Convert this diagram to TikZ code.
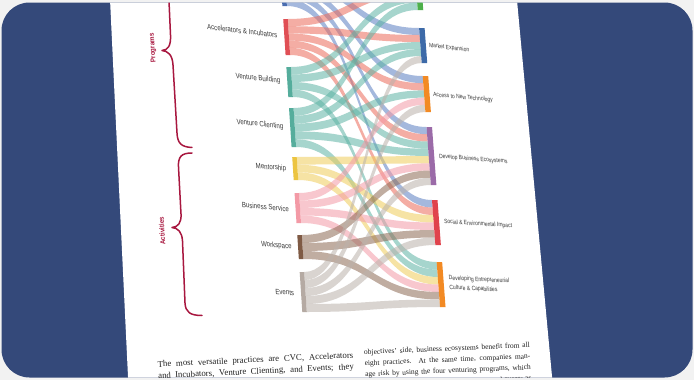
\documentclass[tikz,border=0pt]{standalone}
\usepackage{fontspec}
\setmainfont{Liberation Serif}
\newfontfamily\labfont[FakeStretch=0.8]{Liberation Sans}
\newfontfamily\headfont[FakeStretch=0.9]{Liberation Sans}
\definecolor{framecol}{HTML}{F2F2F2}
\definecolor{navy}{HTML}{34497A}
\definecolor{labcol}{HTML}{3A3A3A}
\definecolor{crim}{HTML}{A8173F}
\definecolor{txtcol}{HTML}{222222}
% flow colours
\definecolor{cvcF}{HTML}{5B7EC2}
\definecolor{aiF}{HTML}{EB6A5A}
\definecolor{tealF}{HTML}{5DB3A4}
\definecolor{yelF}{HTML}{F0CC5A}
\definecolor{pinkF}{HTML}{F49AA6}
\definecolor{brF}{HTML}{8E6A55}
\definecolor{grF}{HTML}{BBB2AB}
% bar colours
\definecolor{cvcB}{HTML}{4A6DB0}
\definecolor{aiB}{HTML}{E04F55}
\definecolor{tealB}{HTML}{55AD9C}
\definecolor{yelB}{HTML}{ECC440}
\definecolor{pinkB}{HTML}{F39AA6}
\definecolor{brB}{HTML}{7F5A44}
\definecolor{grB}{HTML}{B5AAA3}
\definecolor{greenB}{HTML}{4DB04A}
\definecolor{meB}{HTML}{3D6AA8}
\definecolor{orB}{HTML}{F28A24}
\definecolor{puB}{HTML}{9B6BA8}
\definecolor{seB}{HTML}{E0434C}
\tikzset{
  flowband/.style={fill=#1, fill opacity=0.55},
  lab/.style={inner sep=0pt, text=labcol, xslant=-0.065, font=\labfont\fontsize{7.6}{8}\selectfont},
  rlab/.style={inner sep=0pt, text=labcol, align=left, xslant=-0.07, font=\labfont\fontsize{6.2}{9.5}\selectfont},
  head/.style={inner sep=0pt, text=crim, font=\headfont\bfseries\fontsize{7}{8}\selectfont},
  bracepath/.style={draw=crim, line width=1.5pt, line cap=round, line join=round},
  para/.style={inner sep=0pt, text=txtcol, xslant=-0.048},
}
% flow band: colour, source top, source bottom, target top, target bottom
\newcommand\flw[5]{%
  \fill[flowband=#1] ({286.5+0.065*(#2)},#2)
    .. controls ({351.75+0.0325*(#2)+0.0375*(#4)},#2) and ({351.75+0.0325*(#2)+0.0375*(#4)},#4)
    .. ({417+0.075*(#4)},#4)
    -- ({417+0.075*(#5)},#5)
    .. controls ({351.75+0.0325*(#3)+0.0375*(#5)},#5) and ({351.75+0.0325*(#3)+0.0375*(#5)},#3)
    .. ({286.5+0.065*(#3)},#3) -- cycle;}
\newcommand\lbar[3]{\fill[#1] ({282+0.065*(#2)},#2) -- ({286.5+0.065*(#2)},#2) -- ({286.5+0.065*(#3)},#3) -- ({282+0.065*(#3)},#3) -- cycle;}
\newcommand\rbar[3]{\fill[#1] ({417+0.075*(#2)},#2) -- ({422.5+0.075*(#2)},#2) -- ({422.5+0.075*(#3)},#3) -- ({417+0.075*(#3)},#3) -- cycle;}
\begin{document}
\begin{tikzpicture}[x=1pt,y=-1pt]
\useasboundingbox (0,0) rectangle (694,380);
\fill[framecol] (0,0) rectangle (694,380);
\begin{scope}
\clip[rounded corners=28] (1.5,2.5) rectangle (692.5,377.5);
\fill[navy] (0,0) rectangle (694,380);
% page
\fill[white] (109.8,-5) -- (516.5,-5) -- (552.8,385) -- (128.4,385) -- cycle;
% ---- flows ----
% CVC
\flw{cvcF}{-22.8}{-15.6}{28}{35}
\flw{cvcF}{-15.6}{-8.4}{76}{83.2}
\flw{cvcF}{-8.4}{-1.2}{127}{134.25}
\flw{cvcF}{-1.2}{6}{200}{207.5}
% Accelerators & Incubators
\flw{aiF}{19}{26.2}{-12.5}{-5}
\flw{aiF}{26.2}{33.4}{35}{42}
\flw{aiF}{33.4}{40.6}{83.2}{90.4}
\flw{aiF}{40.6}{47.8}{134.25}{141.5}
\flw{aiF}{47.8}{55}{207.5}{215}
% Venture Building
\flw{tealF}{67}{74.5}{-5}{2.5}
\flw{tealF}{74.5}{82}{42}{49}
\flw{tealF}{82}{89.5}{141.5}{148.75}
\flw{tealF}{89.5}{97}{262}{269.5}
% Venture Clienting
\flw{tealF}{108}{115.8}{2.5}{10}
\flw{tealF}{115.8}{123.6}{49}{56}
\flw{tealF}{123.6}{131.4}{90.4}{97.6}
\flw{tealF}{131.4}{139.2}{148.75}{156}
\flw{tealF}{139.2}{147}{269.5}{277}
% Mentorship
\flw{yelF}{157}{164.7}{156}{163.25}
\flw{yelF}{164.7}{172.3}{215}{222.5}
\flw{yelF}{172.3}{180}{277}{284.5}
% Business Service
\flw{pinkF}{193}{200.5}{97.6}{104.8}
\flw{pinkF}{200.5}{208}{163.25}{170.5}
\flw{pinkF}{208}{215.5}{222.5}{230}
\flw{pinkF}{215.5}{223}{284.5}{292}
% Workspace
\flw{brF}{235}{243}{170.5}{177.75}
\flw{brF}{243}{251}{230}{237.5}
\flw{brF}{251}{259}{292}{299.5}
% Events
\flw{grF}{272}{280}{56}{63}
\flw{grF}{280}{288}{104.8}{112}
\flw{grF}{288}{296}{177.75}{185}
\flw{grF}{296}{304}{237.5}{245}
\flw{grF}{304}{312}{299.5}{307}
% ---- bars ----
\lbar{cvcB}{-22.8}{6}
\lbar{aiB}{19}{55}
\lbar{tealB}{67}{97}
\lbar{tealB}{108}{147}
\lbar{yelB}{157}{180}
\lbar{pinkB}{193}{223}
\lbar{brB}{235}{259}
\lbar{grB}{272}{312}
\rbar{greenB}{-15}{10}
\rbar{meB}{28}{63}
\rbar{orB}{76}{112}
\rbar{puB}{127}{185}
\rbar{seB}{200}{245}
\rbar{orB}{262}{307}
% ---- left labels ----
\node[lab, anchor=east, yslant=-0.12] (lAI) at (277.5,35) {Accelerators \& Incubators};
\node[lab, anchor=east, yslant=-0.105] (lVB) at (280.5,81) {Venture Building};
\node[lab, anchor=east, yslant=-0.105] (lVC) at (283.5,127) {Venture Clienting};
\node[lab, anchor=east, yslant=-0.09] (lM) at (286.3,169) {Mentorship};
\node[lab, anchor=east, yslant=-0.087] (lBS) at (289,209) {Business Service};
\node[lab, anchor=east, yslant=-0.087] (lW) at (291.8,247) {Workspace};
\node[lab, anchor=east, yslant=-0.07] (lE) at (294.3,293) {Events};
% ---- right labels ----
\node[rlab, anchor=west, yslant=-0.12] (rG) at (427,-3.5) {Business Growth};
\node[rlab, anchor=west, yslant=-0.12] (rME) at (429,45.5) {Market Expansion};
\node[rlab, anchor=west, yslant=-0.087] (rANT) at (433,95) {Access to New Technology};
\node[rlab, anchor=west, yslant=-0.079] (rDBE) at (439,156.5) {Develop Business Ecosystems};
\node[rlab, anchor=west, yslant=-0.061] (rSEI) at (444,222) {Social \& Environmental Impact};
\node[rlab, anchor=west, yslant=-0.052] (rDEC) at (449,283) {Developing Entrepreneurial\\Culture \& Capabilities};
% ---- braces ----
\draw[bracepath] (168.5,-10) -- (170.5,35) .. controls (171,46) and (168,50) .. (162,50.5)
  .. controls (168,51) and (172.5,55) .. (173,65) -- (177,133)
  .. controls (177.5,143) and (181,147) .. (192,147.5);
\draw[bracepath] (192,153) .. controls (181,153) and (178,157) .. (178.5,167) -- (181,214)
  .. controls (181.5,223) and (178,227) .. (172,227.5)
  .. controls (178,228) and (182,232) .. (182.5,241) -- (185,303)
  .. controls (185.5,312) and (190,315.5) .. (202,315.5);
\node[head, rotate=93.7] (hP) at (153,48) {Programs};
\node[head, rotate=93.7] (hA) at (162,231) {Activities};
% ---- paragraph text ----
\node[para, anchor=west, yslant=0.047] (pL) at (157.8,370.8) {\fontsize{8.8}{11.5}\selectfont
  \parbox{196pt}{\makebox[196pt][s]{The most versatile practices are CVC, Accelerators}\\
  \makebox[196pt][s]{and Incubators, Venture Clienting, and Events; they}}};
\node[para, anchor=west, yslant=0.042] (pR) at (364.7,368.5) {\fontsize{7.5}{11}\selectfont
  \parbox{166pt}{\makebox[166pt][s]{objectives' side, business ecosystems benefit from all}\\
  \makebox[166pt][s]{eight practices. At the same time, companies man-}\\
  \makebox[166pt][s]{age risk by using the four venturing programs, which}\\
  \makebox[166pt][r]{and events as}}};
\end{scope}
\end{tikzpicture}
\end{document}
